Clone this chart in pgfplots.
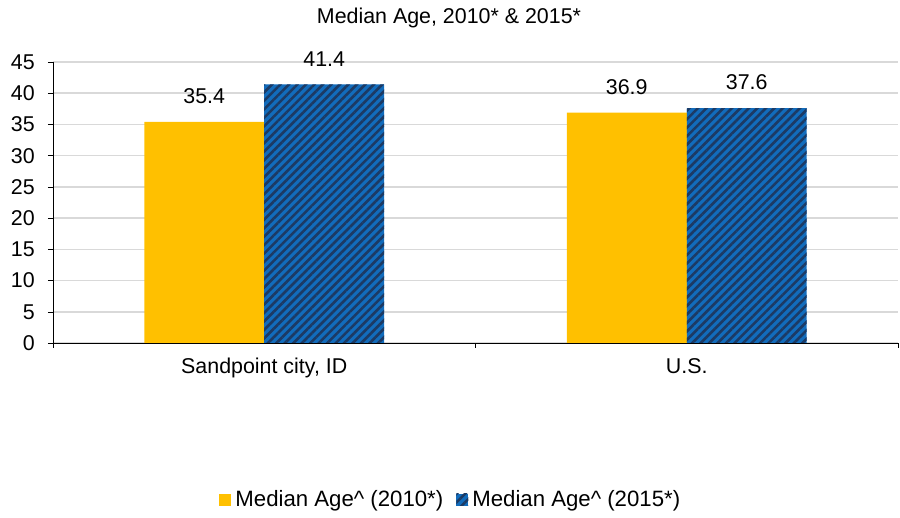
\documentclass[border=0pt]{standalone}
\usepackage{fontspec}
\setmainfont{Liberation Sans}
\usepackage{pgfplots}
\pgfplotsset{compat=1.18}
\usetikzlibrary{patterns.meta}
\definecolor{barYellow}{RGB}{255,192,0}
\definecolor{barBlue}{RGB}{18,108,188}
\definecolor{stripe}{RGB}{28,58,100}
\definecolor{gridgray}{RGB}{217,217,217}

\begin{document}
\fontsize{10.7}{12.8}\selectfont
\begin{tikzpicture}
\begin{axis}[
    name=ax,
    scale only axis,
    width=422.5pt, height=140.5pt,
    ybar, bar width=0.284,
    xmin=-0.5, xmax=1.5,
    ymin=0, ymax=45,
    enlargelimits=false,
    clip=false,
    axis x line*=bottom,
    axis y line*=left,
    axis line style={black},
    tick align=outside,
    major tick length=2.5pt,
    minor tick length=2.5pt,
    xtick={0,1},
    xticklabels={{Sandpoint city, ID},{U.S.}},
    minor xtick={-0.5,0.5,1.5},
    major x tick style={draw=none},
    minor x tick style={black},
    xticklabel style={yshift=-1.4pt},
    ytick={0,5,...,45},
    ytick style={black},
    yticklabel style={xshift=-2.9pt},
    /pgf/number format/assume math mode=true,
    ymajorgrids,
    major grid style={gridgray, line width=0.8pt},
    nodes near coords={\pgfmathprintnumber[fixed,fixed zerofill,precision=1,assume math mode=true]{\pgfplotspointmeta}},
    every node near coord/.append style={yshift=5.3pt, black},
    legend columns=2,
    legend style={at={(0.472,0)}, anchor=center, yshift=-78.5pt, draw=none,
        font=\fontsize{11.1}{13}\selectfont,
        /tikz/every even column/.append style={column sep=4.5pt}},
    legend image code/.code={\draw[#1,draw=none] (0pt,-3pt) rectangle (6pt,3pt);},
]
\addplot[fill=barYellow, draw=none, bar shift=-0.142]
    coordinates {(0,35.4) (1,36.9)};
\addplot[fill=barBlue, draw=none, bar shift=0.142,
    postaction={pattern={Lines[angle=45, distance=3pt, line width=1.3pt]}, pattern color=stripe}]
    coordinates {(0,41.4) (1,37.6)};
\legend{Median Age\textasciicircum{} (2010*), Median Age\textasciicircum{} (2015*)}
\end{axis}
\node at ([xshift=-13.25pt, yshift=22pt]ax.north) {Median Age, 2010* \& 2015*};
\path ([xshift=-26.5pt, yshift=-85.5pt]ax.south west) rectangle ([xshift=1pt, yshift=31pt]ax.north east);
\end{tikzpicture}
\end{document}
